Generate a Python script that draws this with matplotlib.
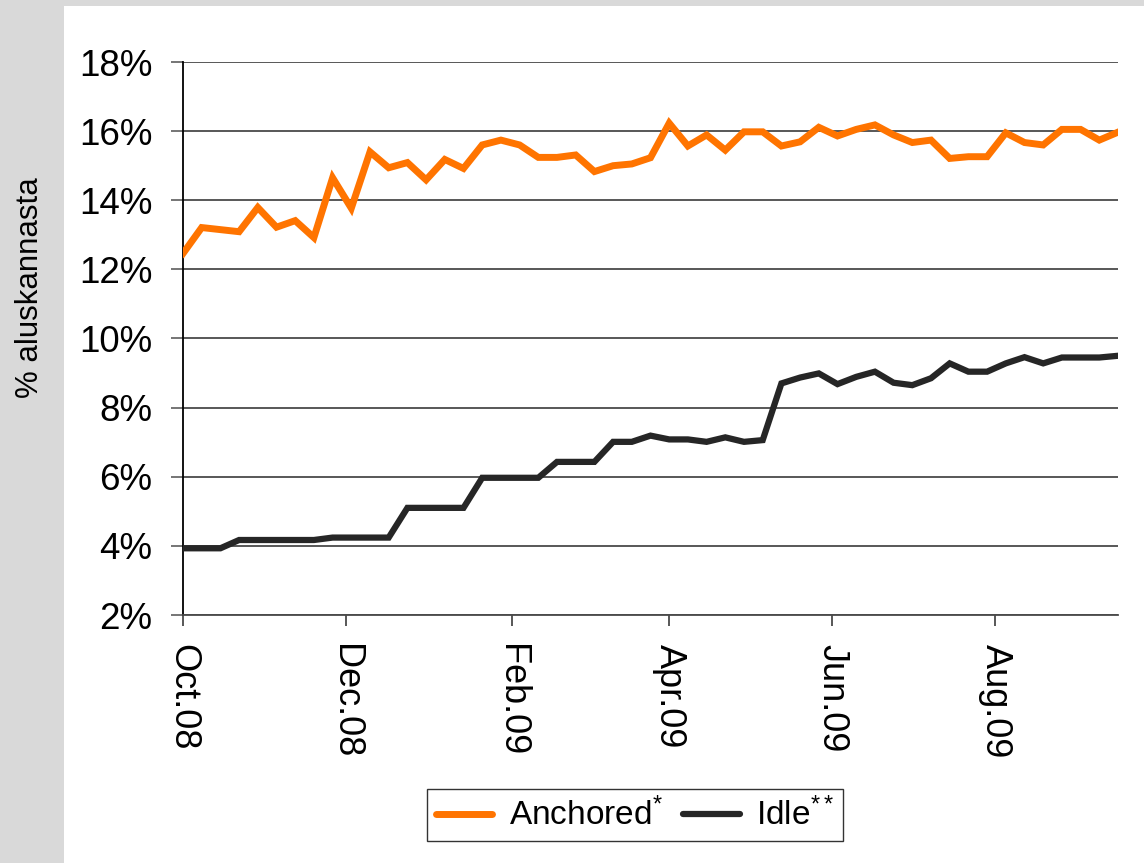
import pandas as pd
import matplotlib
matplotlib.use('Agg')
import matplotlib.pyplot as plt
import matplotlib.dates as mdates
from matplotlib.patches import Rectangle
from matplotlib.ticker import FuncFormatter

plt.rcParams['font.family'] = ['Liberation Sans', 'DejaVu Sans']
plt.rcParams['mathtext.fontset'] = 'custom'
plt.rcParams['mathtext.rm'] = 'Liberation Sans'
plt.rcParams['mathtext.it'] = 'Liberation Sans'

# viikkodata, lokakuu 2008 - syyskuu 2009
dates = pd.date_range('2008-10-01', periods=51, freq='7D')

anchored = [12.46, 13.21, 13.15, 13.09, 13.79, 13.22, 13.41, 12.92, 14.65, 13.77,
            15.40, 14.94, 15.09, 14.59, 15.18, 14.92, 15.60, 15.74, 15.60, 15.24,
            15.24, 15.31, 14.83, 15.00, 15.05, 15.23, 16.23, 15.57, 15.89, 15.45,
            15.98, 15.98, 15.57, 15.69, 16.11, 15.86, 16.05, 16.18, 15.89, 15.67,
            15.74, 15.21, 15.26, 15.26, 15.95, 15.67, 15.60, 16.05, 16.05, 15.74,
            15.97]

idle = [3.93, 3.93, 3.93, 4.17, 4.17, 4.17, 4.17, 4.17, 4.24, 4.24,
        4.24, 4.24, 5.10, 5.10, 5.10, 5.10, 5.97, 5.97, 5.97, 5.97,
        6.43, 6.43, 6.43, 7.01, 7.01, 7.19, 7.08, 7.08, 7.01, 7.14,
        7.01, 7.06, 8.70, 8.87, 8.99, 8.68, 8.89, 9.04, 8.72, 8.65,
        8.85, 9.28, 9.04, 9.04, 9.28, 9.46, 9.28, 9.45, 9.45, 9.45,
        9.50]

y_ticks = [2, 4, 6, 8, 10, 12, 14, 16, 18]
labels = ['Anchored$^{*}$', 'Idle$^{**}$']

W, H = 1144, 863
fig = plt.figure(figsize=(W / 100, H / 100), dpi=100, facecolor='#d9d9d9')
fig.patches.append(Rectangle((64 / W, 0), 1, 1 - 6 / H, transform=fig.transFigure,
                             facecolor='white', edgecolor='none', zorder=-5))

ax = fig.add_axes([183 / W, 1 - 615 / H, (1118 - 183) / W, (615 - 62) / H])
ax.set_facecolor('white')

ax.plot(dates, anchored, color='#ff7400', lw=5, solid_joinstyle='miter', label=labels[0], zorder=3)
ax.plot(dates, idle, color='#262626', lw=4.5, solid_joinstyle='miter', label=labels[1], zorder=3)

ax.set_ylim(2, 18)
ax.set_yticks(y_ticks)
ax.yaxis.set_major_formatter(FuncFormatter(lambda v, p: f'{v:.0f}%'))
ax.set_xlim(dates[0], dates[-1])
ax.xaxis.set_major_locator(mdates.MonthLocator(bymonth=[2, 4, 6, 8, 10, 12]))
ax.xaxis.set_major_formatter(mdates.DateFormatter('%b.%y'))

ax.grid(axis='y', color='#4a4a4a', lw=1.3)
ax.set_axisbelow(True)
for side in ['top', 'right']:
    ax.spines[side].set_visible(False)
ax.spines['left'].set_color('black')
ax.spines['left'].set_linewidth(1.3)
ax.spines['bottom'].set_color('#4a4a4a')
ax.spines['bottom'].set_linewidth(1.3)

ax.tick_params(axis='y', length=9, width=1.3, color='#6a6a6a', pad=13, labelsize=26.5)
ax.tick_params(axis='x', length=8, width=1.3, color='#4a4a4a', pad=13, labelsize=26)
for lbl in ax.get_xticklabels():
    lbl.set_rotation(-90)
    lbl.set_va('top')
    lbl.set_ha('center')

fig.text(30 / W, 1 - 288 / H, '% aluskannasta', rotation=90, fontsize=22.5,
         ha='center', va='center')

leg = ax.legend(loc='center', bbox_to_anchor=(635 / W, 1 - 815 / H),
                bbox_transform=fig.transFigure, ncol=2, fontsize=24,
                frameon=True, fancybox=False, handlelength=1.7, handletextpad=0.5,
                columnspacing=0.6, borderpad=0.25, borderaxespad=0)
leg.get_frame().set_edgecolor('black')
leg.get_frame().set_linewidth(1.0)
for line in leg.get_lines():
    line.set_solid_capstyle('round')

fig.savefig('out.png', dpi=100, facecolor=fig.get_facecolor())
